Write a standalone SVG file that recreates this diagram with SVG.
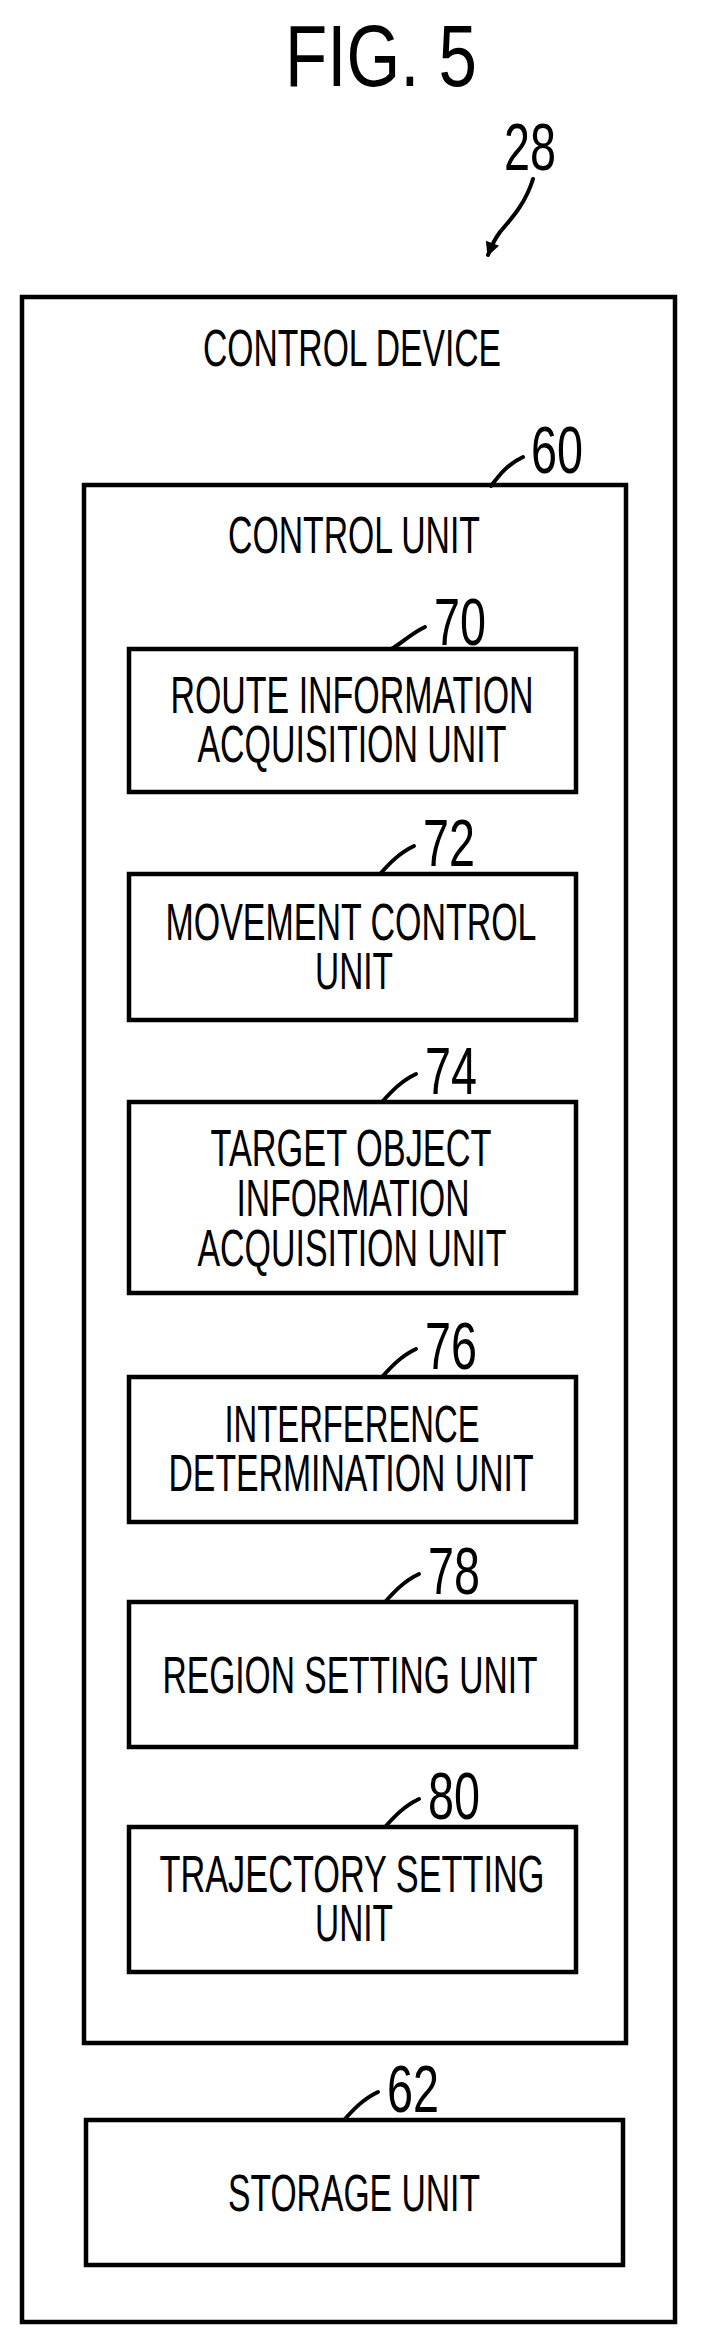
<svg xmlns="http://www.w3.org/2000/svg" width="705" height="2347" viewBox="0 0 705 2347">
<style>
text{font-family:"Liberation Sans",Arial,sans-serif;fill:#000;text-anchor:middle}
.t{font-size:52px}
.n{font-size:66px;text-anchor:start}
rect{fill:none;stroke:#000;stroke-width:4.5}
.c{fill:none;stroke:#000;stroke-width:4;stroke-linecap:round}
</style>
<defs><marker id="ah" viewBox="0 0 10 10" refX="9" refY="5" markerWidth="18" markerHeight="14" orient="auto" markerUnits="userSpaceOnUse"><path d="M0,0 L10,5 L0,10 Z" style="fill:#000;stroke:none"/></marker></defs>
<text x="381" y="86" style="font-size:88px" textLength="192" lengthAdjust="spacingAndGlyphs">FIG. 5</text>
<g id="device"><rect x="22" y="297" width="653" height="2025"/><text class="t" x="352" y="366" textLength="298" lengthAdjust="spacingAndGlyphs">CONTROL DEVICE</text><text class="n" x="504" y="170" textLength="52" lengthAdjust="spacingAndGlyphs">28</text></g>
<g id="control"><rect x="84" y="485" width="542" height="1558"/><text class="t" x="354" y="553" textLength="252" lengthAdjust="spacingAndGlyphs">CONTROL UNIT</text><text class="n" x="531" y="473" textLength="52" lengthAdjust="spacingAndGlyphs">60</text></g>
<g id="n70"><rect x="129" y="649" width="447" height="143"/><text class="t" x="352" y="713" textLength="363" lengthAdjust="spacingAndGlyphs">ROUTE INFORMATION</text><text class="t" x="352" y="762" textLength="309" lengthAdjust="spacingAndGlyphs">ACQUISITION UNIT</text><text class="n" x="434" y="645" textLength="52" lengthAdjust="spacingAndGlyphs">70</text></g>
<g id="n72"><rect x="129" y="874" width="447" height="146"/><text class="t" x="351" y="940" textLength="371" lengthAdjust="spacingAndGlyphs">MOVEMENT CONTROL</text><text class="t" x="354" y="989" textLength="78" lengthAdjust="spacingAndGlyphs">UNIT</text><text class="n" x="423" y="866" textLength="52" lengthAdjust="spacingAndGlyphs">72</text></g>
<g id="n74"><rect x="129" y="1102" width="447" height="191"/><text class="t" x="351" y="1166" textLength="281" lengthAdjust="spacingAndGlyphs">TARGET OBJECT</text><text class="t" x="353" y="1216" textLength="233" lengthAdjust="spacingAndGlyphs">INFORMATION</text><text class="t" x="352" y="1266" textLength="309" lengthAdjust="spacingAndGlyphs">ACQUISITION UNIT</text><text class="n" x="425" y="1094" textLength="52" lengthAdjust="spacingAndGlyphs">74</text></g>
<g id="n76"><rect x="129" y="1377" width="447" height="145"/><text class="t" x="352" y="1442" textLength="255" lengthAdjust="spacingAndGlyphs">INTERFERENCE</text><text class="t" x="351" y="1491" textLength="365" lengthAdjust="spacingAndGlyphs">DETERMINATION UNIT</text><text class="n" x="425" y="1369" textLength="52" lengthAdjust="spacingAndGlyphs">76</text></g>
<g id="n78"><rect x="129" y="1602" width="447" height="145"/><text class="t" x="350" y="1693" textLength="375" lengthAdjust="spacingAndGlyphs">REGION SETTING UNIT</text><text class="n" x="428" y="1594" textLength="52" lengthAdjust="spacingAndGlyphs">78</text></g>
<g id="n80"><rect x="129" y="1827" width="447" height="145"/><text class="t" x="352" y="1892" textLength="385" lengthAdjust="spacingAndGlyphs">TRAJECTORY SETTING</text><text class="t" x="354" y="1941" textLength="78" lengthAdjust="spacingAndGlyphs">UNIT</text><text class="n" x="428" y="1819" textLength="52" lengthAdjust="spacingAndGlyphs">80</text></g>
<g id="n62"><rect x="86" y="2120" width="537" height="145"/><text class="t" x="354" y="2211" textLength="252" lengthAdjust="spacingAndGlyphs">STORAGE UNIT</text><text class="n" x="387" y="2112" textLength="52" lengthAdjust="spacingAndGlyphs">62</text></g>
<g id="connectors">
<path class="c" d="M533,179 C525,205 510,220 500,232 C494,240 491,247 488,255" marker-end="url(#ah)"/>
<path class="c" d="M523,457 C508,464 500,474 491,486"/>
<path class="c" d="M425,627 C410,634 400,645 391,649"/>
<path class="c" d="M414,846 C399,853 389,864 380,874"/>
<path class="c" d="M416,1074 C401,1081 391,1092 382,1102"/>
<path class="c" d="M416,1349 C401,1356 391,1367 382,1377"/>
<path class="c" d="M419,1574 C404,1581 394,1592 385,1602"/>
<path class="c" d="M419,1799 C404,1806 394,1817 385,1827"/>
<path class="c" d="M378,2092 C363,2099 353,2110 344,2120"/>
</g>
</svg>
